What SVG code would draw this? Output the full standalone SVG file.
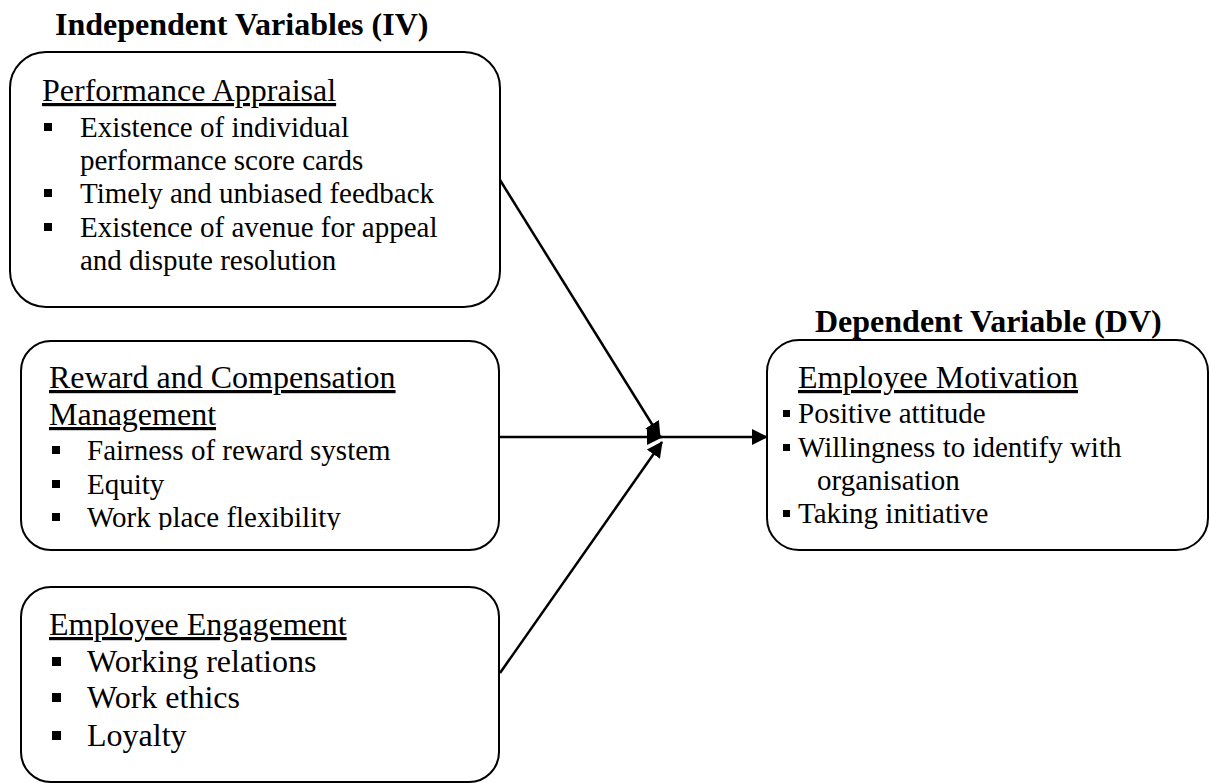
<svg xmlns="http://www.w3.org/2000/svg" width="1210" height="783" viewBox="0 0 1210 783">
<style>
.box{fill:#fff;stroke:#000;stroke-width:2}
.t{font-family:"Liberation Serif","Times New Roman",serif;fill:#000}
.title{font-size:32px;font-weight:bold}
.h{font-size:32px;text-decoration:underline}
.b{font-size:29px}
.b32{font-size:32px}
.conn{stroke:#000;stroke-width:2.5;fill:none}
</style>
<defs>
<marker id="ah" markerUnits="userSpaceOnUse" markerWidth="16" markerHeight="16" viewBox="0 0 16 16" refX="15" refY="8" orient="auto">
<path d="M0,0 L16,8 L0,16 Z" fill="#000"/>
</marker>
<clipPath id="c2"><rect x="0" y="340" width="510" height="190"/></clipPath>
</defs>
<text class="t title" x="55" y="35">Independent Variables (IV)</text>
<text class="t title" x="815" y="332">Dependent Variable (DV)</text>

<g id="iv1">
<rect class="box" x="10" y="52" width="490" height="255" rx="36" ry="36"/>
<text class="t h" x="42" y="101">Performance Appraisal</text>
<rect x="44" y="123" width="8" height="8"/>
<text class="t b" x="80" y="137">Existence of individual</text>
<text class="t b" x="80" y="170">performance score cards</text>
<rect x="44" y="189" width="8" height="8"/>
<text class="t b" x="80" y="203">Timely and unbiased feedback</text>
<rect x="44" y="223" width="8" height="8"/>
<text class="t b" x="80" y="237">Existence of avenue for appeal</text>
<text class="t b" x="80" y="270">and dispute resolution</text>
</g>

<g id="iv2">
<rect class="box" x="21" y="341" width="478" height="209" rx="30" ry="30"/>
<text class="t h" x="49" y="388">Reward and Compensation</text>
<text class="t h" x="49" y="425">Management</text>
<rect x="52" y="446" width="8" height="8"/>
<text class="t b" x="87" y="460">Fairness of reward system</text>
<rect x="52" y="480" width="8" height="8"/>
<text class="t b" x="87" y="494">Equity</text>
<rect x="52" y="513" width="8" height="8"/>
<text class="t b" x="87" y="527" clip-path="url(#c2)">Work place flexibility</text>
</g>

<g id="iv3">
<rect class="box" x="21" y="587" width="478" height="195" rx="30" ry="30"/>
<text class="t h" x="49" y="635">Employee Engagement</text>
<rect x="52" y="657" width="9" height="9"/>
<text class="t b32" x="87" y="672">Working relations</text>
<rect x="52" y="693" width="9" height="9"/>
<text class="t b32" x="87" y="708">Work ethics</text>
<rect x="52" y="731" width="9" height="9"/>
<text class="t b32" x="87" y="746">Loyalty</text>
</g>

<g id="dv">
<rect class="box" x="767" y="340" width="441" height="210" rx="32" ry="32"/>
<text class="t h" x="798" y="388">Employee Motivation</text>
<rect x="783" y="410" width="7" height="7"/>
<text class="t b" x="798" y="423">Positive attitude</text>
<rect x="783" y="444" width="7" height="7"/>
<text class="t b" x="798" y="457">Willingness to identify with</text>
<text class="t b" x="817" y="490">organisation</text>
<rect x="783" y="510" width="7" height="7"/>
<text class="t b" x="798" y="523">Taking initiative</text>
</g>

<g id="connectors">
<line class="conn" x1="500" y1="180" x2="660" y2="437" marker-end="url(#ah)"/>
<line class="conn" x1="500" y1="437" x2="662" y2="437" marker-end="url(#ah)"/>
<line class="conn" x1="500" y1="673" x2="662" y2="442" marker-end="url(#ah)"/>
<line class="conn" x1="660" y1="437" x2="767" y2="437" marker-end="url(#ah)"/>
</g>
</svg>
